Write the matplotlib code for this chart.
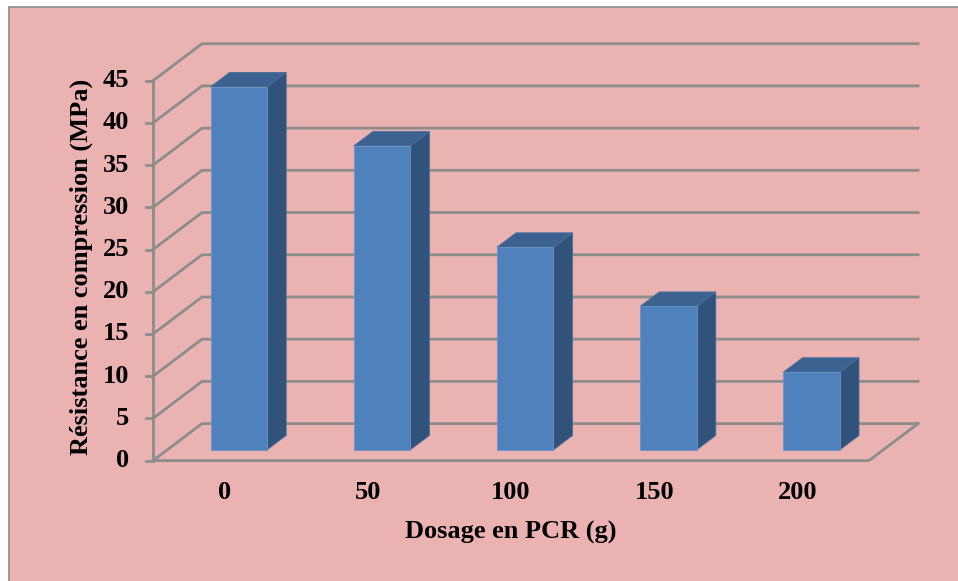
import matplotlib
matplotlib.use("Agg")
import matplotlib.pyplot as plt
from matplotlib.patches import Polygon, Rectangle
from matplotlib.lines import Line2D
import matplotlib.transforms as mtransforms

# Data
categories = ["0", "50", "100", "150", "200"]
strength = [43.0, 36.0, 24.0, 17.0, 9.2]
y_ticks = [0, 5, 10, 15, 20, 25, 30, 35, 40, 45]

# Styling
bg_color = "#EBB2B2"
grid_color = "#8C8C8C"
front_color = "#4F81BD"
side_color = "#31527A"
top_color = "#3B6290"
font = "Liberation Serif"
fsize = 19

DPI = 100
fig = plt.figure(figsize=(9.58, 5.81), dpi=DPI)
fig.patch.set_facecolor("white")

# outer chart frame
frame = Rectangle((9 / 958, -0.01), 1.0, (581 - 7) / 581 + 0.01,
                  transform=fig.transFigure, facecolor=bg_color,
                  edgecolor="#8C8C8C", linewidth=1.2, zorder=-5)
fig.patches.append(frame)

# front plane of the plot box (pixel geometry of floor/wall)
left_px, right_px = 153, 869
top_px, bottom_px = 80.7, 460.6
W, H = 958, 581
ax = fig.add_axes([left_px / W, (H - bottom_px) / H,
                   (right_px - left_px) / W, (bottom_px - top_px) / H])
ax.set_xlim(-0.5, len(categories) - 0.5)
ax.set_ylim(0, 45)
ax.axis("off")
ax.patch.set_visible(False)
ax.set_zorder(10)

# oblique depth vector (in inches) for full depth of the box
depth_dx, depth_dy = 0.49, 0.37


def shifted(frac):
    return ax.transData + mtransforms.ScaledTranslation(
        depth_dx * frac, depth_dy * frac, fig.dpi_scale_trans)


front = ax.transData
back = shifted(1.0)
x0, x1 = -0.5, len(categories) - 0.5
inv = fig.transFigure.inverted()

# gridlines: left wall diagonals and back wall horizontals
for v in y_ticks:
    a, b, c = inv.transform([front.transform((x0, v)),
                             back.transform((x0, v)),
                             back.transform((x1, v))])
    fig.lines.append(Line2D([a[0], b[0], c[0]], [a[1], b[1], c[1]],
                            transform=fig.transFigure, color=grid_color,
                            linewidth=2.0, zorder=1))

# floor: front edge and right diagonal
pf_l = inv.transform(front.transform((x0, 0)))
pf_r = inv.transform(front.transform((x1, 0)))
pb_r = inv.transform(back.transform((x1, 0)))
fig.lines.append(Line2D([pf_l[0], pf_r[0], pb_r[0]], [pf_l[1], pf_r[1], pb_r[1]],
                        transform=fig.transFigure, color=grid_color,
                        linewidth=2.0, zorder=1))

# vertical value axis with ticks
ax.plot([x0, x0], [0, 45], color=grid_color, linewidth=2.0,
        solid_capstyle="butt", zorder=2, clip_on=False)
tick_len = mtransforms.ScaledTranslation(-0.07, 0, fig.dpi_scale_trans)
for v in y_ticks:
    p0 = inv.transform(front.transform((x0, v)))
    p1 = inv.transform((front + tick_len).transform((x0, v)))
    fig.lines.append(Line2D([p0[0], p1[0]], [p0[1], p1[1]],
                            transform=fig.transFigure, color=grid_color,
                            linewidth=2.0, zorder=2))
    ax.text(x0, v, str(v),
            transform=front + mtransforms.ScaledTranslation(-0.24, 0, fig.dpi_scale_trans),
            ha="right", va="center", fontsize=fsize, fontweight="bold",
            family=font, color="black", clip_on=False)

# bars as oblique prisms
bar_w = 0.395
bar_front = 0.29
bar_back = 0.68
t_front = shifted(bar_front)
t_back = shifted(bar_back)


def to_fig(t, pts):
    return inv.transform(t.transform(pts))


for i, v in enumerate(strength):
    xl, xr = i - bar_w / 2, i + bar_w / 2
    # side face
    f = to_fig(t_front, [(xr, 0), (xr, v)])
    b = to_fig(t_back, [(xr, v), (xr, 0)])
    fig.patches.append(Polygon(list(f) + list(b), closed=True,
                               transform=fig.transFigure, facecolor=side_color,
                               edgecolor="#4A6E99", linewidth=0.6, zorder=3))
    # top face
    f = to_fig(t_front, [(xl, v), (xr, v)])
    b = to_fig(t_back, [(xr, v), (xl, v)])
    fig.patches.append(Polygon(list(f) + list(b), closed=True,
                               transform=fig.transFigure, facecolor=top_color,
                               edgecolor="#4A6E99", linewidth=0.6, zorder=3))
    # front face
    f = to_fig(t_front, [(xl, 0), (xr, 0), (xr, v), (xl, v)])
    fig.patches.append(Polygon(f, closed=True, transform=fig.transFigure,
                               facecolor=front_color, edgecolor="#6A93C6",
                               linewidth=0.6, zorder=4))

# category labels
for i, c in enumerate(categories):
    ax.text(i, 0, c,
            transform=front + mtransforms.ScaledTranslation(0, -0.32, fig.dpi_scale_trans),
            ha="center", va="center", fontsize=fsize, fontweight="bold",
            family=font, color="black", clip_on=False)

# axis titles
fig.text(511 / W, 1 - 532 / H, "Dosage en PCR (g)", ha="center", va="center",
         fontsize=fsize, fontweight="bold", family=font)
fig.text(81 / W, 1 - 267 / H, "Résistance en compression (MPa)", ha="center",
         va="center", rotation=90, fontsize=fsize, fontweight="bold", family=font)

fig.savefig("out.png", dpi=DPI, facecolor=fig.get_facecolor())
